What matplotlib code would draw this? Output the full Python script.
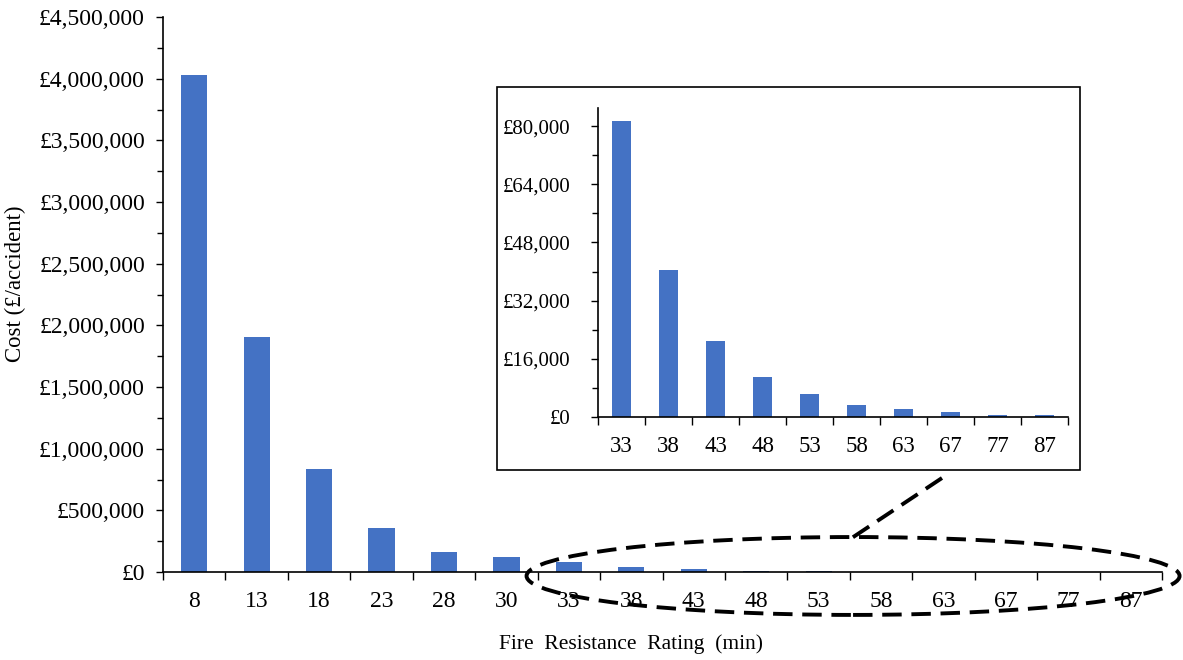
import matplotlib
matplotlib.use("Agg")
import matplotlib.pyplot as plt
from matplotlib.patches import Ellipse, Rectangle
from matplotlib.lines import Line2D
from matplotlib.ticker import FuncFormatter, MultipleLocator
import numpy as np

plt.rcParams['font.family'] = ['Liberation Serif', 'DejaVu Serif']
plt.rcParams['font.size'] = 15

# main chart data
ratings = ['8', '13', '18', '23', '28', '30', '33', '38', '43', '48', '53', '58', '63', '67', '77', '87']
costs = [4030000, 1908000, 838000, 359000, 160000, 122000, 81400, 40550, 20780,
         11130, 6250, 3400, 2100, 1380, 550, 500]

# zoomed part
zoom_ratings = ratings[6:]
zoom_costs = costs[6:]

bar_color = '#4472C4'
pound = FuncFormatter(lambda v, p: '£{:,.0f}'.format(v))


def excel_axes(ax, labels, values, ymax, major, minor, fs, xfs, ypad):
    x = np.arange(len(labels))
    ax.bar(x, values, width=0.42, color=bar_color, zorder=2)
    ax.set_xlim(-0.5, len(labels) - 0.5)
    ax.set_ylim(0, ymax)
    # category boundaries get the ticks, labels sit in the middle
    ax.set_xticks(np.arange(-0.5, len(labels), 1))
    ax.set_xticklabels([])
    ax.set_xticks(x, minor=True)
    ax.set_xticklabels(labels, minor=True)
    ax.tick_params(axis='x', which='major', direction='out', length=6, width=1)
    ax.tick_params(axis='x', which='minor', length=0, pad=14, labelsize=xfs)
    ax.yaxis.set_major_locator(MultipleLocator(major))
    ax.yaxis.set_minor_locator(MultipleLocator(minor))
    ax.yaxis.set_major_formatter(pound)
    ax.tick_params(axis='y', which='major', direction='out', length=5, width=1,
                   pad=ypad, labelsize=fs)
    ax.tick_params(axis='y', which='minor', direction='out', length=4, width=1)
    for s in ['top', 'right']:
        ax.spines[s].set_visible(False)
    for s in ['left', 'bottom']:
        ax.spines[s].set_linewidth(1.2)


fig = plt.figure(figsize=(11.83, 6.6), dpi=100)

ax = fig.add_axes([0.1378, 0.1333, 0.8445, 0.8409])
excel_axes(ax, ratings, costs, 4500000, 500000, 250000, 17, 17, 8)
ax.set_xlabel('Fire  Resistance  Rating  (min)', fontsize=15.5)
ax.xaxis.set_label_coords(0.468, -0.112)
ax.set_ylabel('Cost (£/accident)', fontsize=16.4)
ax.yaxis.set_label_coords(-0.137, 0.52)

# frame around the inset
fig.add_artist(Rectangle((0.4201, 0.2879), 0.4928, 0.5803, transform=fig.transFigure,
                         facecolor='white', edgecolor='black', linewidth=1.2, zorder=3))

ax2 = fig.add_axes([0.5055, 0.3682, 0.3973, 0.4682], zorder=4)
ax2.patch.set_alpha(0)
excel_axes(ax2, zoom_ratings, zoom_costs, 85000, 16000, 8000, 15, 16.5, 15)

# dashed ellipse and pointer line
fig.add_artist(Ellipse((0.7211, 0.1273), 0.552, 0.118, transform=fig.transFigure,
                       fill=False, edgecolor='black', linewidth=2.8,
                       linestyle=(0, (5, 2.5)), zorder=5))
fig.add_artist(Line2D([0.721, 0.799], [0.186, 0.279], transform=fig.transFigure,
                      color='black', linewidth=2.8, linestyle=(0, (5, 2.5)), zorder=5))

fig.savefig('out.png', dpi=100)
